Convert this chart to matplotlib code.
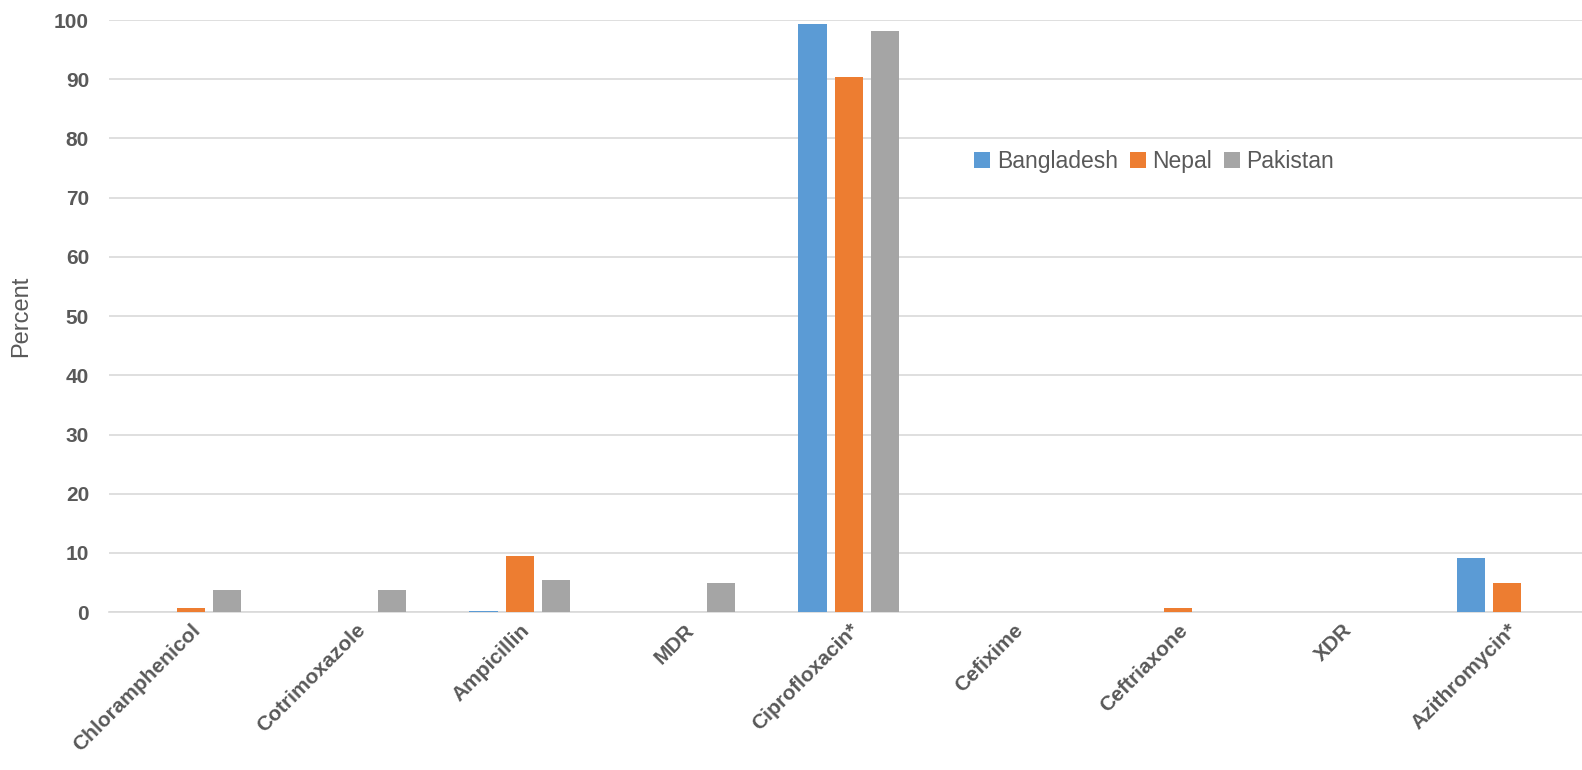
import numpy as np
import matplotlib
matplotlib.use("Agg")
import matplotlib.pyplot as plt

plt.rcParams['font.family'] = ['Liberation Sans Narrow', 'Liberation Sans', 'DejaVu Sans']

drugs = ["Chloramphenicol", "Cotrimoxazole", "Ampicillin", "MDR", "Ciprofloxacin*",
         "Cefixime", "Ceftriaxone", "XDR", "Azithromycin*"]
bangladesh = [0, 0, 0.2, 0, 99.4, 0, 0, 0, 9.2]
nepal = [0.7, 0, 9.5, 0, 90.3, 0, 0.7, 0, 5.0]
pakistan = [3.7, 3.8, 5.4, 5.0, 98.1, 0, 0, 0, 0]

series = [("Bangladesh", bangladesh, "#5b9bd5"),
          ("Nepal", nepal, "#ed7d31"),
          ("Pakistan", pakistan, "#a5a5a5")]

fig = plt.figure(figsize=(15.82, 7.7), dpi=100)
ax = fig.add_axes([0.0686, 0.205, 0.936, 0.769])

x = np.arange(len(drugs))
w = 0.172
step = 0.221
for i, (name, vals, col) in enumerate(series):
    ax.bar(x + (i - 1) * step, vals, width=w, color=col, label=name, zorder=3)

ax.set_xlim(-0.5, len(drugs) - 0.5)
ax.set_ylim(0, 100)
ax.set_yticks(range(0, 101, 10))
ax.grid(axis="y", color="#d9d9d9", linewidth=1.2, zorder=0)
for s in ["top", "right", "left"]:
    ax.spines[s].set_visible(False)
ax.spines["bottom"].set_color("#d9d9d9")
ax.spines["bottom"].set_linewidth(1.2)
ax.tick_params(axis="both", length=0, colors="#595959", labelsize=15)
ax.tick_params(axis="y", pad=14)
ax.tick_params(axis="x", pad=6)
ax.set_xticks(x)
ax.set_xticklabels(drugs, rotation=45, ha="right", rotation_mode="anchor",
                   fontweight="bold", fontsize=15, color="#595959")
for lbl in ax.get_yticklabels():
    lbl.set_fontweight("bold")
ax.set_ylabel("Percent", fontsize=17, color="#595959", labelpad=16)

ax.legend(loc="center", bbox_to_anchor=(0.7296, 0.79), bbox_transform=fig.transFigure,
          ncol=3, frameon=False, fontsize=16.5, labelcolor="#595959",
          handlelength=0.7, handleheight=0.7, handletextpad=0.3, columnspacing=0.5)

plt.savefig("out.png", dpi=100)
